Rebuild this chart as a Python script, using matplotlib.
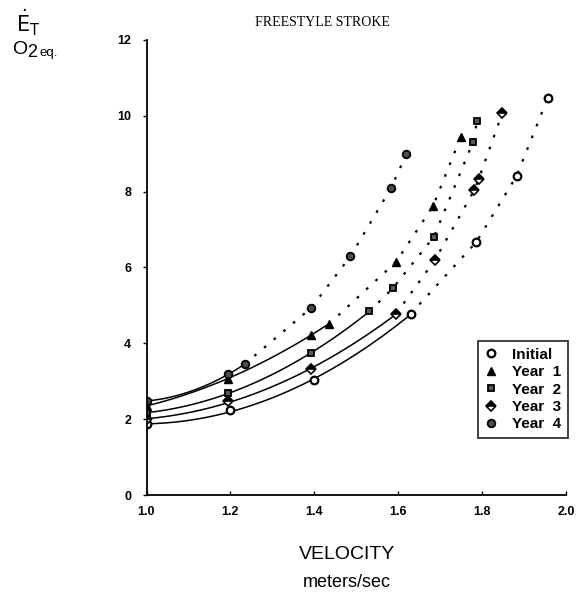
"""
Freestyle stroke: energy cost vs velocity over four training years.
"""

import matplotlib.pyplot as plt
import numpy as np

plt.rcParams["font.family"] = ["Liberation Sans", "DejaVu Sans"]

# Data (velocity m/s, O2 eq.)
initial_x = [1.0, 1.2, 1.4, 1.63, 1.786, 1.882, 1.956]
initial_y = [1.86, 2.25, 3.02, 4.78, 6.67, 8.41, 10.46]

year1_x = [1.0, 1.194, 1.393, 1.435, 1.595, 1.683, 1.749]
year1_y = [2.35, 3.07, 4.23, 4.51, 6.15, 7.62, 9.44]

year2_x = [1.0, 1.194, 1.393, 1.531, 1.587, 1.685, 1.778, 1.788]
year2_y = [2.17, 2.68, 3.75, 4.84, 5.45, 6.81, 9.30, 9.87]

year3_x = [1.0, 1.194, 1.393, 1.595, 1.687, 1.781, 1.792, 1.848]
year3_y = [2.0, 2.47, 3.31, 4.78, 6.19, 8.03, 8.34, 10.07]

year4_x = [1.0, 1.194, 1.234, 1.392, 1.486, 1.583, 1.619]
year4_y = [2.48, 3.18, 3.45, 4.93, 6.29, 8.10, 8.98]

# how many leading points lie on the solid fitted curve
n_solid = [4, 4, 4, 4, 3]

labels = ["Initial", "Year  1", "Year  2", "Year  3", "Year  4"]
x_ticks = [1.0, 1.2, 1.4, 1.6, 1.8, 2.0]
y_ticks = [0, 2, 4, 6, 8, 10, 12]

# marker styles
styles = [
    dict(marker="o", mfc="white", mec="black", ms=5.5, mew=1.6),
    dict(marker="^", mfc="black", mec="black", ms=5.5, mew=1),
    dict(marker="s", mfc="0.35", mec="black", ms=5, mew=1.3),
    dict(marker="D", mfc="black", mec="black", ms=4.8, mew=1.2, fillstyle="top", markerfacecoloralt="white"),
    dict(marker="o", mfc="0.3", mec="black", ms=5.5, mew=1.3),
]

series = [(initial_x, initial_y), (year1_x, year1_y), (year2_x, year2_y),
          (year3_x, year3_y), (year4_x, year4_y)]

fig = plt.figure(figsize=(5.86, 5.95), dpi=100)
ax = fig.add_axes([0.250, 0.168, 0.716, 0.765])

for (xs, ys), n, st, lab in zip(series, n_solid, styles, labels):
    xs = np.array(xs)
    ys = np.array(ys)
    # solid fitted curve through the lower points
    coef = np.polyfit(xs[:n], ys[:n], 2)
    xf = np.linspace(xs[0], xs[n - 1], 60)
    ax.plot(xf, np.polyval(coef, xf), color="black", lw=1.1)
    # dotted continuation through remaining points
    ax.plot(xs[n - 1:], ys[n - 1:], color="black", lw=1.6, linestyle=(0, (1.2, 4.5)))
    ax.plot(xs, ys, linestyle="none", label=lab, **st)

ax.set_xlim(1.0, 2.0)
ax.set_ylim(0, 12)
ax.set_xticks(x_ticks)
ax.set_xticklabels([f"{t:.1f}" for t in x_ticks])
ax.set_yticks(y_ticks)
ax.spines["top"].set_visible(False)
ax.spines["right"].set_visible(False)
ax.spines["left"].set_linewidth(1.3)
ax.spines["bottom"].set_linewidth(1.3)
ax.tick_params(axis="x", direction="in", length=3, width=1, pad=8, labelsize=9)
ax.tick_params(axis="y", direction="out", length=3, width=1, pad=8, labelsize=9)
for lbl in ax.get_xticklabels() + ax.get_yticklabels():
    lbl.set_fontweight("bold")

leg = ax.legend(loc="lower right", bbox_to_anchor=(1.005, 0.125), frameon=True, fancybox=False,
                edgecolor="black", handlelength=0.8, handletextpad=1.0, borderpad=0.45,
                labelspacing=0.22, borderaxespad=0,
                prop={"weight": "bold", "size": 11})
leg.get_frame().set_linewidth(1.3)

fig.text(0.55, 0.963, "FREESTYLE STROKE", family="Liberation Serif", fontsize=10, ha="center", va="center")
fig.text(0.048, 0.962, r"$\dot{\mathrm{E}}_{\mathrm{T}}$", fontsize=15, ha="center", va="center")
fig.text(0.020, 0.917, "O", fontsize=14, ha="left", va="center")
fig.text(0.047, 0.912, "2", fontsize=13, ha="left", va="center")
fig.text(0.068, 0.911, "eq.", fontsize=9.5, ha="left", va="center")

fig.text(0.592, 0.068, "VELOCITY", fontsize=14, ha="center", va="center")
fig.text(0.592, 0.021, "meters/sec", fontsize=13, ha="center", va="center")

plt.savefig("out.png", dpi=100)
plt.close()
